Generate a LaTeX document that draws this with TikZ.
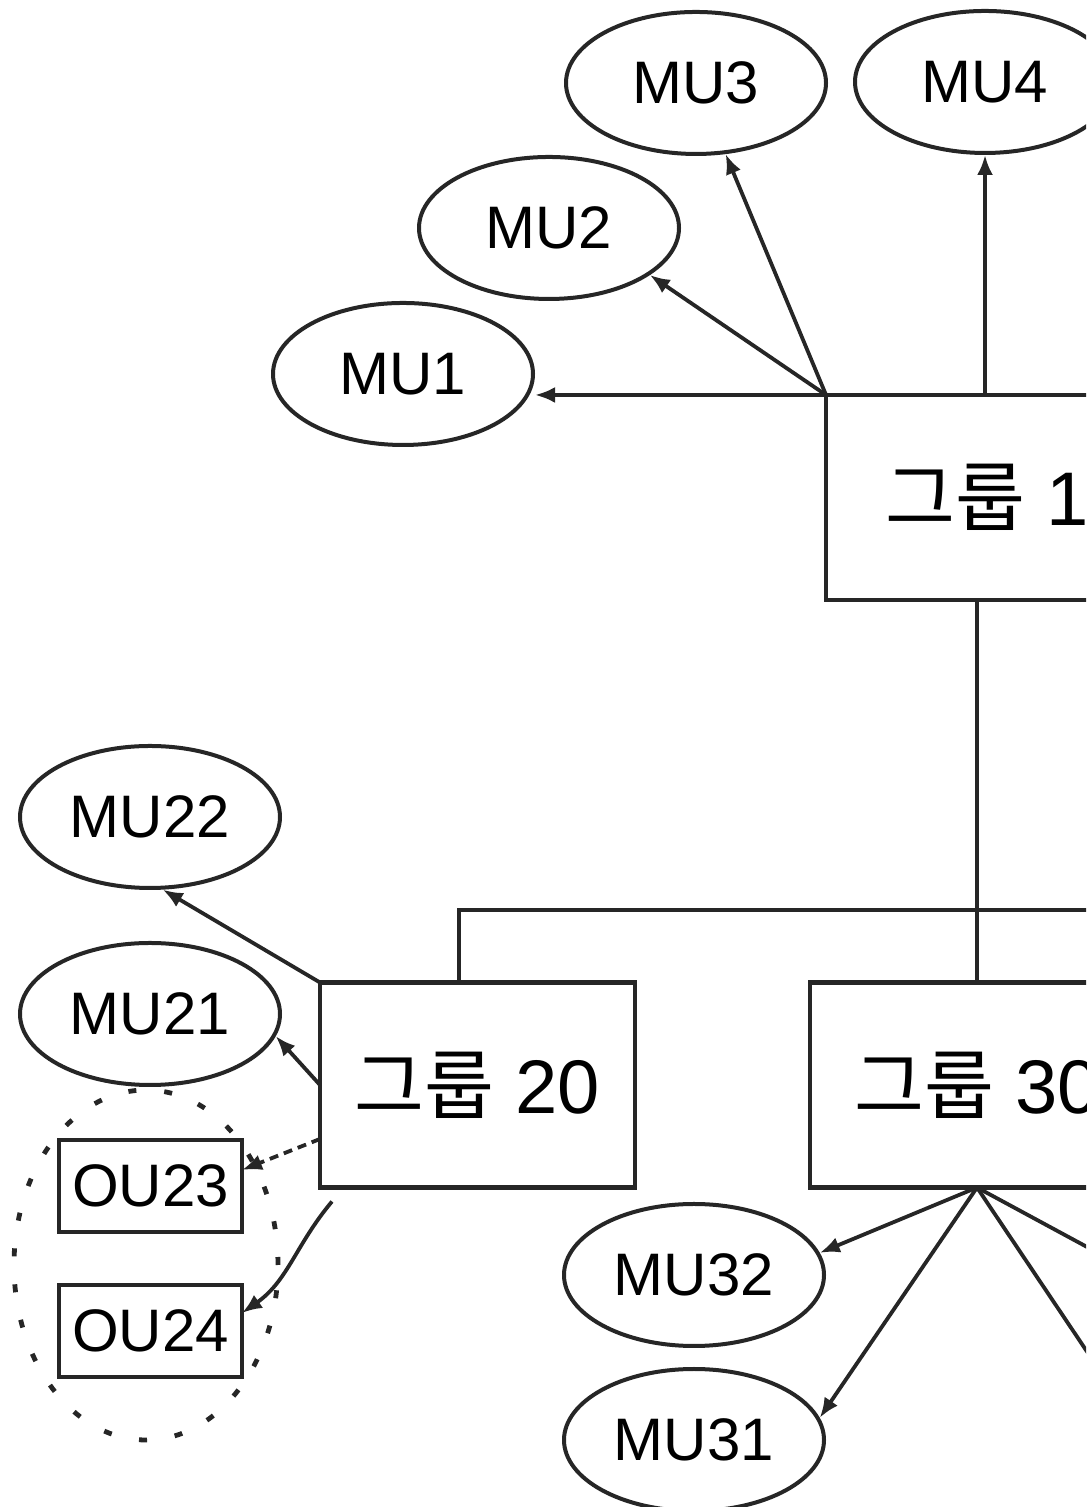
\documentclass[tikz,border=0pt]{standalone}
\usepackage{fontspec}
\setmainfont{Liberation Sans}
\newfontfamily\kr{Noto Sans CJK KR}
\usetikzlibrary{arrows.meta,shapes.geometric}

\tikzset{
  member/.style={draw=black!85,line width=2pt,ellipse,minimum width=130pt,minimum height=71pt,inner sep=0pt,font=\fontsize{30}{32}\selectfont},
  group/.style={draw=black!85,line width=2.2pt,rectangle,outer sep=0pt,minimum height=102.5pt,inner sep=0pt,font=\fontsize{38}{40}\selectfont},
  outunit/.style={draw=black!85,line width=2.2pt,rectangle,outer sep=0pt,minimum width=91.5pt,minimum height=46pt,inner sep=0pt,font=\fontsize{30}{32}\selectfont},
  link/.style={draw=black!85,line width=1.9pt},
  arr/.style={link,-{Latex[length=10pt,width=8pt]}},
}

\begin{document}
\begin{tikzpicture}[x=0.5pt,y=0.5pt]
\useasboundingbox (0,0) rectangle (1086,1507);
\clip (0,0) rectangle (1086,1507);
% groups:
\node[group,minimum width=182pt] (g10) at (1008,1009.5) {{\kr 그룹} 10};
\node[group,minimum width=157.5pt] (g20) at (477.5,422) {{\kr 그룹} 20};
\node[group,minimum width=167pt] (g30) at (977,422) {{\kr 그룹} 30};
% members of group 10:
\node[member] (mu1) at (403,1133) {MU1};
\node[member] (mu2) at (549,1279) {MU2};
\node[member] (mu3) at (696,1424) {MU3};
\node[member] (mu4) at (985,1425) {MU4};
% members of group 20:
\node[member] (mu22) at (150,690) {MU22};
\node[member] (mu21) at (150,493) {MU21};
\node[outunit] (ou23) at (150.5,321) {OU23};
\node[outunit] (ou24) at (150.5,176) {OU24};
\node[draw=black!85,line width=2.4pt,dash pattern=on 4pt off 14pt,ellipse,minimum width=132pt,minimum height=175pt] (pool) at (146,242) {};
% members of group 30:
\node[member] (mu32) at (694,232) {MU32};
\node[member] (mu31) at (694,67) {MU31};
% links from group 10:
\coordinate (h1) at (g10.north west);
\draw[arr] (h1) -- (h1 -| mu1.east);
\draw[arr] (h1) -- (mu2.-25);
\draw[arr] (h1) -- (mu3);
\draw[arr] (mu4 |- h1) -- (mu4.south);
\draw[link] (g10.south -| g30.north) -- (g30.north);
% links from group 20:
\coordinate (far) at (1100,597);
\draw[link] ([xshift=-9.25pt]g20.north) |- (far);
\draw[arr] (g20.north west) -- (mu22.-80);
\draw[arr] (g20.west) -- (mu21.-10);
\draw[arr,dash pattern=on 4.5pt off 3pt] ([yshift=-27pt]g20.west) -- ([yshift=8pt]ou23.east);
\draw[arr] ([xshift=6pt,yshift=-7pt]g20.south west) to[out=-130,in=35] ([yshift=9pt]ou24.east);
% links from group 30:
\coordinate (h3) at (g30.south);
\coordinate (far33) at (1100,253);
\coordinate (far34) at (1100,136);
\draw[arr] (h3) -- (mu32.10);
\draw[arr] (h3) -- (mu31.10);
\draw[link] (h3) -- (far33);
\draw[link] (h3) -- (far34);
\end{tikzpicture}
\end{document}
